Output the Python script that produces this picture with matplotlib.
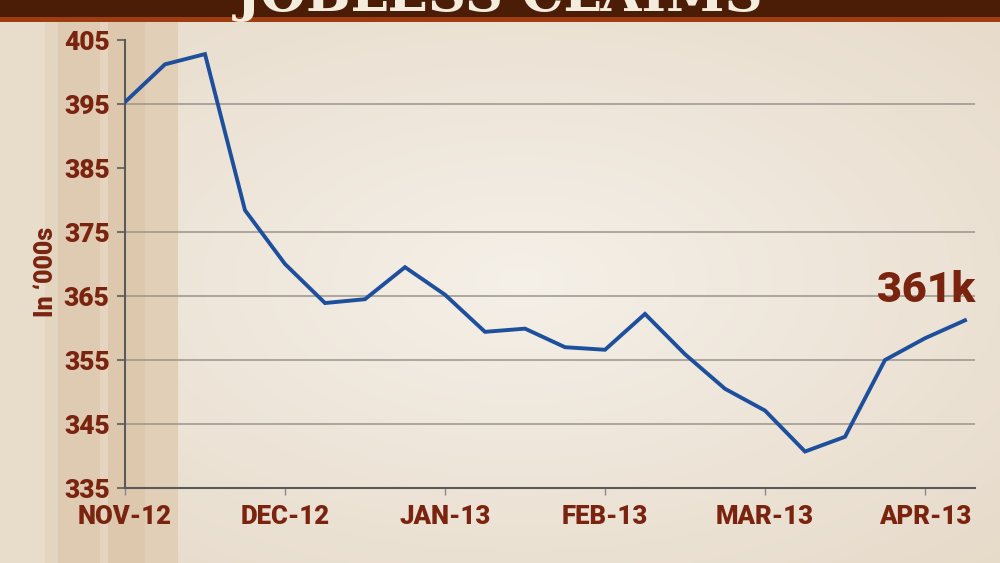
import matplotlib
matplotlib.use("Agg")
import matplotlib.pyplot as plt
import numpy as np

# weekly jobless claims, in thousands
claims = [395.3, 401.2, 402.8, 378.4, 370.0, 363.9, 364.5, 369.5, 365.2, 359.4, 359.9,
          357.0, 356.6, 362.2, 355.9, 350.5, 347.1, 340.7, 343.0, 355.0, 358.4, 361.2]
month_labels = ["NOV-12", "DEC-12", "JAN-13", "FEB-13", "MAR-13", "APR-13"]
month_pos = [0, 4, 8, 12, 16, 20]
y_ticks = [335, 345, 355, 365, 375, 385, 395, 405]
grid_levels = [345, 355, 365, 375, 395]

W, H = 1000, 563
red = "#7a2410"
blue = "#1d4f9c"
plt.rcParams['font.family'] = ['Roboto', 'DejaVu Sans']

fig = plt.figure(figsize=(W / 100, H / 100), dpi=100)

# ---- background ----
bg = fig.add_axes([0, 0, 1, 1])
yy, xx = np.mgrid[0:H, 0:W]
r = np.sqrt(((xx - 520) / W) ** 2 + ((yy - 280) / H) ** 2)
r = np.clip(r / 0.75, 0, 1)
c0 = np.array([0.96, 0.94, 0.91])
c1 = np.array([0.90, 0.85, 0.78])
img = c0[None, None, :] * (1 - r[..., None]) + c1[None, None, :] * r[..., None]
bg.imshow(img, extent=(0, W, H, 0), aspect="auto")
# vertical stripes on the left
stripes = [(0, 45, "#e8dccb"), (45, 58, "#e4d5c1"), (58, 100, "#dfcbb2"),
           (100, 108, "#e5d4bf"), (108, 145, "#dec8ad"), (145, 178, "#e2cfb7")]
for x0, x1, col in stripes:
    bg.axvspan(x0, x1, color=col, lw=0)
# top banner
bg.axhspan(0, 17, color="#4b1d06", lw=0)
bg.axhspan(17, 21.5, color="#9e3c12", lw=0)
bg.set_xlim(0, W)
bg.set_ylim(H, 0)
bg.axis("off")
fig.text(0.5, 1 - 11 / H, "JOBLESS CLAIMS", ha="center", va="baseline",
         fontsize=38, fontweight="bold", color="#f4ecdc",
         family=["DejaVu Serif"])

# ---- chart ----
left, right = 125 / W, 975 / W
bottom, top = 1 - 488 / H, 1 - 40 / H
ax = fig.add_axes([left, bottom, right - left, top - bottom])
ax.patch.set_alpha(0)
x = np.arange(len(claims))
for g in grid_levels:
    ax.axhline(g, color="#9a948b", lw=1.1, zorder=1)
ax.plot(x, claims, color=blue, lw=2.8, solid_joinstyle="miter", zorder=3)

ax.set_xlim(0, 21.25)
ax.set_ylim(335, 405)
ax.set_yticks(y_ticks)
ax.set_xticks(month_pos)
ax.set_xticklabels(month_labels)
for s in ["top", "right"]:
    ax.spines[s].set_visible(False)
for s in ["left", "bottom"]:
    ax.spines[s].set_color("#5a5a5a")
    ax.spines[s].set_linewidth(1.5)
ax.tick_params(axis="y", length=6, width=1.2, color="#5a5a5a", pad=5,
               labelsize=19, labelcolor=red)
ax.tick_params(axis="x", length=5, width=1.0, color="#8a8a8a", pad=7,
               labelsize=18.5, labelcolor=red)
for lab in ax.get_xticklabels() + ax.get_yticklabels():
    lab.set_fontweight("black")

fig.text(46 / W, 1 - 272 / H, "In \u2018000s", rotation=90, ha="center", va="center",
         fontsize=18, fontweight="black", color=red)

ax.annotate(f"{claims[-1]:.0f}k", xy=(x[-1], claims[-1]), xytext=(7, 7),
            textcoords="offset points", ha="right", va="bottom",
            fontsize=31, fontweight="black", color=red)

fig.savefig("out.png", dpi=100)
